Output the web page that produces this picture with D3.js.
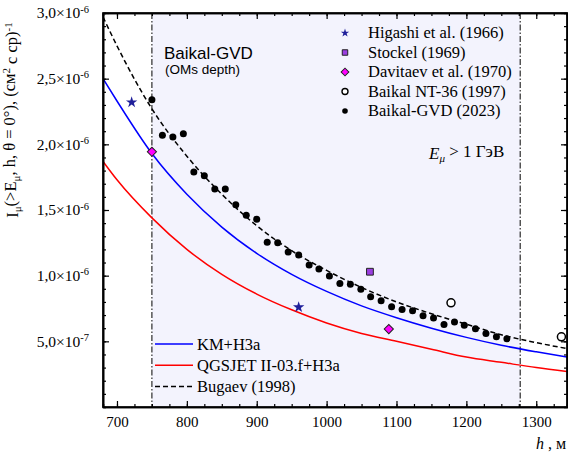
<!DOCTYPE html>
<html>
<head>
<meta charset="utf-8">
<script src="https://cdn.jsdelivr.net/npm/d3@7"></script>
<style>
body { margin: 0; background: #fff; }
svg text { font-family: "Liberation Serif", "Times New Roman", serif; fill: #000; }
.sans { font-family: "Liberation Sans", Arial, sans-serif; }
.axis path, .axis line { stroke: #000; }
</style>
</head>
<body>
<div id="chart"></div>
<script>
// curves, flux in units of 1e-6 (cm^2 s sr)^-1
var curveDepth = [680, 700, 750, 800, 850, 900, 950, 1000, 1050, 1100, 1150, 1200, 1250, 1300, 1344];
var kmH3a     = [2.50, 2.33, 1.93, 1.62, 1.37, 1.17, 1.01, 0.88, 0.77, 0.68, 0.60, 0.53, 0.47, 0.42, 0.38];
var qgsjetH3a = [1.87, 1.73, 1.44, 1.20, 1.01, 0.86, 0.74, 0.64, 0.56, 0.50, 0.44, 0.38, 0.34, 0.30, 0.27];
var bugaev    = [2.97, 2.75, 2.27, 1.91, 1.62, 1.38, 1.19, 1.04, 0.91, 0.80, 0.71, 0.63, 0.55, 0.49, 0.445];

// measurements
var gvdDepth = [750, 765, 780, 795, 810, 825, 840, 855, 870, 885, 900, 915, 930, 945, 960, 975, 989, 1004, 1019, 1034,
                1049, 1063, 1078, 1093, 1108, 1123, 1138, 1153, 1168, 1183, 1197, 1213, 1228, 1243, 1258];
var gvdFlux  = [2.34, 2.07, 2.055, 2.08, 1.79, 1.76, 1.66, 1.66, 1.54, 1.46, 1.43, 1.255, 1.25, 1.18, 1.157, 1.081, 1.05, 0.997, 0.941, 0.934,
                0.896, 0.839, 0.809, 0.763, 0.743, 0.732, 0.694, 0.677, 0.628, 0.648, 0.623, 0.595, 0.56, 0.534, 0.519];
var higashiDepth = [721, 960],   higashiFlux = [2.32, 0.76];
var stockelDepth = [1062],       stockelFlux = [1.03];
var davitaevDepth = [750, 1089], davitaevFlux = [1.943, 0.593];
var nt36Depth = [1178, 1336],    nt36Flux = [0.793, 0.534];

var omsRange = [750, 1277];
var xTicks = [700, 800, 900, 1000, 1100, 1200, 1300];
var yTicks = [0.5, 1.0, 1.5, 2.0, 2.5, 3.0];

var W = 568, H = 459;
var pL = 103, pR = 567, pT = 13, pB = 407;

var svg = d3.select("#chart").append("svg").attr("width", W).attr("height", H);

var x = d3.scaleLinear().domain([680, 1344]).range([pL, pR]),
    y = d3.scaleLinear().domain([0, 3.0]).range([pB, pT]);

// OMs depth band
svg.append("rect")
    .attr("x", x(omsRange[0])).attr("y", pT)
    .attr("width", x(omsRange[1]) - x(omsRange[0])).attr("height", pB - pT)
    .style("fill", "#f3f3fd");

svg.selectAll(".oms")
    .data(omsRange)
  .enter().append("line")
    .attr("x1", function (d) { return x(d); }).attr("x2", function (d) { return x(d); })
    .attr("y1", pT).attr("y2", pB)
    .style("stroke", "#000").style("stroke-width", 1)
    .style("stroke-dasharray", "6,2,1.5,2");

// clip anything past the frame
svg.append("defs").append("clipPath").attr("id", "clip")
    .append("rect").attr("x", pL).attr("y", pT).attr("width", pR - pL).attr("height", pB - pT);
var g = svg.append("g").attr("clip-path", "url(#clip)");

// theory curves
function curve(vals, color, dash) {
    var line = d3.line()
        .curve(d3.curveMonotoneX)
        .x(function (d, i) { return x(curveDepth[i]); })
        .y(function (d) { return y(d); });
    g.append("path").datum(vals).attr("d", line)
        .style("fill", "none").style("stroke", color).style("stroke-width", 1.5)
        .style("stroke-dasharray", dash || null);
}
curve(bugaev, "#000", "5,3");
curve(kmH3a, "#0000ff");
curve(qgsjetH3a, "#ff0000");

// markers
var star = d3.symbol().type(d3.symbolStar).size(40),
    square = d3.symbol().type(d3.symbolSquare).size(46),
    diamond = d3.symbol().type(d3.symbolSquare).size(42);

g.selectAll(".gvd").data(gvdFlux).enter().append("circle")
    .attr("cx", function (d, i) { return x(gvdDepth[i]); })
    .attr("cy", function (d) { return y(d); })
    .attr("r", 3.5).style("fill", "#000");

g.selectAll(".nt36").data(nt36Flux).enter().append("circle")
    .attr("cx", function (d, i) { return x(nt36Depth[i]); })
    .attr("cy", function (d) { return y(d); })
    .attr("r", 4).style("fill", "#fff").style("stroke", "#000").style("stroke-width", 1.5);

g.selectAll(".hig").data(higashiFlux).enter().append("path")
    .attr("d", star)
    .attr("transform", function (d, i) { return "translate(" + x(higashiDepth[i]) + "," + y(d) + ")"; })
    .style("fill", "#1f1f9a");

g.selectAll(".sto").data(stockelFlux).enter().append("path")
    .attr("d", square)
    .attr("transform", function (d, i) { return "translate(" + x(stockelDepth[i]) + "," + y(d) + ")"; })
    .style("fill", "#9a3ee0").style("stroke", "#222").style("stroke-width", 1);

g.selectAll(".dav").data(davitaevFlux).enter().append("path")
    .attr("d", diamond)
    .attr("transform", function (d, i) { return "translate(" + x(davitaevDepth[i]) + "," + y(d) + ") rotate(45)"; })
    .style("fill", "#ff00ff").style("stroke", "#222").style("stroke-width", 1);

// axes
var fmt = d3.format(".1f");
function yLabel(sel) {
    sel.selectAll(".tick text").each(function (d) {
        var t = d3.select(this), m, e;
        if (d < 1) { m = d * 10; e = "-7"; } else { m = d; e = "-6"; }
        t.text(null);
        t.append("tspan").text(fmt(m).replace(".", ",") + "\u00d710");
        t.append("tspan").attr("dy", "-0.55em").style("font-size", "10.5px").text(e);
    });
}

svg.append("g").attr("class", "axis")
    .attr("transform", "translate(0," + pB + ")")
    .call(d3.axisBottom(x).tickValues(d3.range(700, 1344, 25)).tickSize(-3).tickFormat(""));
svg.append("g").attr("class", "axis")
    .attr("transform", "translate(0," + pB + ")")
    .call(d3.axisBottom(x).tickValues(xTicks).tickSizeInner(-6).tickSizeOuter(0).tickPadding(9).tickFormat(d3.format("d")))
    .selectAll("text").style("font-size", "15px");

svg.append("g").attr("class", "axis")
    .attr("transform", "translate(0," + pT + ")")
    .call(d3.axisTop(x).tickValues(d3.range(700, 1344, 25)).tickSize(-3).tickFormat(""));
svg.append("g").attr("class", "axis")
    .attr("transform", "translate(0," + pT + ")")
    .call(d3.axisTop(x).tickValues(xTicks).tickSizeInner(-6).tickSizeOuter(0).tickFormat(""));

svg.append("g").attr("class", "axis")
    .attr("transform", "translate(" + pL + ",0)")
    .call(d3.axisLeft(y).tickValues(d3.range(0.1, 3.0, 0.1)).tickSize(-3).tickFormat(""));
svg.append("g").attr("class", "axis")
    .attr("transform", "translate(" + pL + ",0)")
    .call(d3.axisLeft(y).tickValues(yTicks).tickSizeInner(-6).tickSizeOuter(0).tickPadding(14))
    .call(yLabel)
    .selectAll(".tick text").style("font-size", "15.5px");

svg.append("g").attr("class", "axis")
    .attr("transform", "translate(" + pR + ",0)")
    .call(d3.axisRight(y).tickValues(d3.range(0.1, 3.0, 0.1)).tickSize(-3).tickFormat(""));
svg.append("g").attr("class", "axis")
    .attr("transform", "translate(" + pR + ",0)")
    .call(d3.axisRight(y).tickValues(yTicks).tickSizeInner(-6).tickSizeOuter(0).tickFormat(""));

svg.selectAll(".axis path").style("stroke-width", 1.6);
svg.selectAll(".axis line").style("stroke-width", 1.2);

// frame
svg.append("rect").attr("x", pL).attr("y", pT).attr("width", pR - pL).attr("height", pB - pT)
    .style("fill", "none").style("stroke", "#000").style("stroke-width", 1.6);

// y title
var yt = svg.append("text")
    .attr("transform", "translate(18,120) rotate(-90)")
    .attr("text-anchor", "middle")
    .style("font-size", "16.5px");
yt.append("tspan").text("I");
yt.append("tspan").attr("dy", "0.3em").style("font-size", "11px").text("\u03bc");
yt.append("tspan").attr("dy", "-0.3em").text("(>E");
yt.append("tspan").attr("dy", "0.3em").style("font-size", "11px").text("\u03bc");
yt.append("tspan").attr("dy", "-0.3em").text(", h, \u03b8 = 0\u00b0), (см");
yt.append("tspan").attr("dy", "-0.45em").style("font-size", "11px").text("2");
yt.append("tspan").attr("dy", "0.45em").text(" с ср)");
yt.append("tspan").attr("dy", "-0.45em").style("font-size", "11px").text("-1");

// x title
var xt = svg.append("text").attr("x", 566).attr("y", 449).attr("text-anchor", "end").style("font-size", "16px");
xt.append("tspan").style("font-style", "italic").text("h");
xt.append("tspan").text(" , м");

// annotations
svg.append("text").attr("class", "sans").attr("x", 164).attr("y", 59).style("font-size", "17px").text("Baikal-GVD");
svg.append("text").attr("class", "sans").attr("x", 165).attr("y", 74).style("font-size", "13.5px").text("(OMs depth)");

var et = svg.append("text").attr("x", 429).attr("y", 159).style("font-size", "17px");
et.append("tspan").style("font-style", "italic").text("E");
et.append("tspan").attr("dy", "0.3em").style("font-size", "11px").style("font-style", "italic").text("\u03bc");
et.append("tspan").attr("dy", "-0.3em").text(" > 1 ГэВ");

// marker legend
var markLegend = ["Higashi et al. (1966)", "Stockel (1969)", "Davitaev et al. (1970)", "Baikal NT-36 (1997)", "Baikal-GVD (2023)"];
var lx = 345, ly = 33, ldy = 19.5;
markLegend.forEach(function (name, i) {
    var yy = ly + i * ldy, p;
    if (i === 0) p = svg.append("path").attr("d", d3.symbol().type(d3.symbolStar).size(22)).style("fill", "#1f1f9a");
    if (i === 1) p = svg.append("path").attr("d", d3.symbol().type(d3.symbolSquare).size(30)).style("fill", "#9a3ee0").style("stroke", "#222");
    if (i === 2) p = svg.append("path").attr("d", d3.symbol().type(d3.symbolSquare).size(30)).style("fill", "#ff00ff").style("stroke", "#222");
    if (i === 3) p = svg.append("circle").attr("r", 3).style("fill", "#fff").style("stroke", "#000").style("stroke-width", 1.4);
    if (i === 4) p = svg.append("circle").attr("r", 2.8).style("fill", "#000");
    p.attr("transform", "translate(" + lx + "," + yy + ")" + (i === 2 ? " rotate(45)" : ""));
    svg.append("text").attr("x", lx + 23).attr("y", yy + 5).style("font-size", "16.5px").text(name);
});

// curve legend
var lineLegend = ["KM+H3a", "QGSJET II-03.f+H3a", "Bugaev (1998)"],
    lineColor = ["#0000ff", "#ff0000", "#000"];
lineLegend.forEach(function (name, i) {
    var yy = 344 + i * 21.3;
    svg.append("line").attr("x1", 155).attr("x2", 193).attr("y1", yy).attr("y2", yy)
        .style("stroke", lineColor[i]).style("stroke-width", 1.5)
        .style("stroke-dasharray", i === 2 ? "5,3" : null);
    svg.append("text").attr("x", 197).attr("y", yy + 5.5).style("font-size", "16.5px").text(name);
});
</script>
</body>
</html>
